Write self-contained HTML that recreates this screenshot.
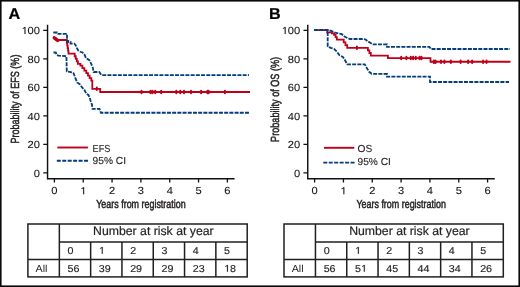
<!DOCTYPE html>
<html><head><meta charset="utf-8"><style>
html,body{margin:0;padding:0;background:#fff;}
svg{display:block;}
text{font-family:"Liberation Sans",sans-serif;fill:#231f20;text-rendering:geometricPrecision;}
.pl{font-size:15.8px;font-weight:bold;fill:#000;stroke:#000;stroke-width:0.2px;}
.tk{font-size:10.3px;stroke:#111;stroke-width:0.08px;fill:#111;}
path.td{fill:#231f20;stroke:#231f20;stroke-width:0.15px;}
.ax{font-size:11.8px;stroke:#231f20;stroke-width:0.5px;}
.lg{font-size:10.2px;stroke:#231f20;stroke-width:0.12px;}
.tb{font-size:12.25px;stroke:#231f20;stroke-width:0.2px;}
.td{font-size:10px;stroke:#231f20;stroke-width:0.15px;}
.ta{font-size:10.2px;}
</style></head><body>
<svg style="will-change:transform" width="520" height="287" viewBox="0 0 520 287">
<rect x="0.8" y="0.8" width="518.4" height="285.4" fill="#fff" stroke="#0a0a0a" stroke-width="1.6"/>
<g transform="translate(8.40,18.70) scale(1.03,1)"><text class="pl">A</text></g>
<g transform="translate(269.00,18.70) scale(1.02,1)"><text class="pl">B</text></g>
<path d="M47.55,24.8V178.65H234.60" fill="none" stroke="#111" stroke-width="1.45"/>
<path d="M43.25,30.30H47.55 M43.25,58.82H47.55 M43.25,87.34H47.55 M43.25,115.86H47.55 M43.25,144.38H47.55 M43.25,172.90H47.55" stroke="#111" stroke-width="1.3"/>
<path d="M54.40,178.6V182.6 M83.23,178.6V182.6 M112.06,178.6V182.6 M140.89,178.6V182.6 M169.72,178.6V182.6 M198.55,178.6V182.6 M227.38,178.6V182.6" stroke="#111" stroke-width="1.3"/>
<g transform="translate(40.00,34.10) scale(1.08,1)"><text class="tk" text-anchor="end"> 00</text><path d="M-13.463,0.000 L-14.369,0.000 L-14.369,-6.010 L-15.978,-4.979 L-15.978,-5.834 L-14.268,-7.086 L-13.463,-7.086Z" class="tk"/></g>
<g transform="translate(40.00,62.62) scale(1.08,1)"><text class="tk" text-anchor="end">80</text></g>
<g transform="translate(40.00,91.14) scale(1.08,1)"><text class="tk" text-anchor="end">60</text></g>
<g transform="translate(40.00,119.66) scale(1.08,1)"><text class="tk" text-anchor="end">40</text></g>
<g transform="translate(40.00,148.18) scale(1.08,1)"><text class="tk" text-anchor="end">20</text></g>
<g transform="translate(40.00,176.70) scale(1.08,1)"><text class="tk" text-anchor="end">0</text></g>
<g transform="translate(54.40,194.30) scale(1.08,1)"><text class="tk" text-anchor="middle">0</text></g>
<g transform="translate(83.23,194.30) scale(1.08,1)"><text class="tk" text-anchor="middle"> </text><path d="M0.857,0.000 L-0.048,0.000 L-0.048,-6.010 L-1.657,-4.979 L-1.657,-5.834 L0.053,-7.086 L0.857,-7.086Z" class="tk"/></g>
<g transform="translate(112.06,194.30) scale(1.08,1)"><text class="tk" text-anchor="middle">2</text></g>
<g transform="translate(140.89,194.30) scale(1.08,1)"><text class="tk" text-anchor="middle">3</text></g>
<g transform="translate(169.72,194.30) scale(1.08,1)"><text class="tk" text-anchor="middle">4</text></g>
<g transform="translate(198.55,194.30) scale(1.08,1)"><text class="tk" text-anchor="middle">5</text></g>
<g transform="translate(227.38,194.30) scale(1.08,1)"><text class="tk" text-anchor="middle">6</text></g>
<text x="96.20" y="207.7" class="ax" textLength="89.5" lengthAdjust="spacingAndGlyphs">Years from registration</text>
<text transform="translate(18.70,143.6) rotate(-90)" x="0" y="0" class="ax" textLength="89.0" lengthAdjust="spacingAndGlyphs">Probability of EFS (%)</text>
<path d="M307.75,24.8V178.65H494.80" fill="none" stroke="#111" stroke-width="1.45"/>
<path d="M303.45,30.30H307.75 M303.45,58.82H307.75 M303.45,87.34H307.75 M303.45,115.86H307.75 M303.45,144.38H307.75 M303.45,172.90H307.75" stroke="#111" stroke-width="1.3"/>
<path d="M314.60,178.6V182.6 M343.43,178.6V182.6 M372.26,178.6V182.6 M401.09,178.6V182.6 M429.92,178.6V182.6 M458.75,178.6V182.6 M487.58,178.6V182.6" stroke="#111" stroke-width="1.3"/>
<g transform="translate(300.20,34.10) scale(1.08,1)"><text class="tk" text-anchor="end"> 00</text><path d="M-13.463,0.000 L-14.369,0.000 L-14.369,-6.010 L-15.978,-4.979 L-15.978,-5.834 L-14.268,-7.086 L-13.463,-7.086Z" class="tk"/></g>
<g transform="translate(300.20,62.62) scale(1.08,1)"><text class="tk" text-anchor="end">80</text></g>
<g transform="translate(300.20,91.14) scale(1.08,1)"><text class="tk" text-anchor="end">60</text></g>
<g transform="translate(300.20,119.66) scale(1.08,1)"><text class="tk" text-anchor="end">40</text></g>
<g transform="translate(300.20,148.18) scale(1.08,1)"><text class="tk" text-anchor="end">20</text></g>
<g transform="translate(300.20,176.70) scale(1.08,1)"><text class="tk" text-anchor="end">0</text></g>
<g transform="translate(314.60,194.30) scale(1.08,1)"><text class="tk" text-anchor="middle">0</text></g>
<g transform="translate(343.43,194.30) scale(1.08,1)"><text class="tk" text-anchor="middle"> </text><path d="M0.857,0.000 L-0.048,0.000 L-0.048,-6.010 L-1.657,-4.979 L-1.657,-5.834 L0.053,-7.086 L0.857,-7.086Z" class="tk"/></g>
<g transform="translate(372.26,194.30) scale(1.08,1)"><text class="tk" text-anchor="middle">2</text></g>
<g transform="translate(401.09,194.30) scale(1.08,1)"><text class="tk" text-anchor="middle">3</text></g>
<g transform="translate(429.92,194.30) scale(1.08,1)"><text class="tk" text-anchor="middle">4</text></g>
<g transform="translate(458.75,194.30) scale(1.08,1)"><text class="tk" text-anchor="middle">5</text></g>
<g transform="translate(487.58,194.30) scale(1.08,1)"><text class="tk" text-anchor="middle">6</text></g>
<text x="356.40" y="207.7" class="ax" textLength="89.5" lengthAdjust="spacingAndGlyphs">Years from registration</text>
<text transform="translate(278.90,141.9) rotate(-90)" x="0" y="0" class="ax" textLength="85.0" lengthAdjust="spacingAndGlyphs">Probability of OS (%)</text>
<path d="M54.3,37.8 L57.6,40.4" stroke="#c0001a" stroke-width="3.5" stroke-linecap="round" fill="none"/>
<polyline points="53.30,37.30 54.50,37.80 55.50,38.60 56.50,39.30 57.50,40.00 66.40,40.00 66.82,40.00 66.82,42.74 67.24,42.74 67.24,45.48 67.66,45.48 67.66,48.22 68.08,48.22 68.08,50.96 68.50,50.96 68.50,53.70 73.60,53.70 74.67,53.70 74.67,56.25 75.75,56.25 75.75,58.80 76.83,58.80 76.83,61.35 77.90,61.35 77.90,63.90 80.40,63.90 80.40,65.60 82.37,65.60 82.37,68.10 84.33,68.10 84.33,70.60 86.30,70.60 86.30,73.10 87.97,73.10 87.97,75.60 89.63,75.60 89.63,78.10 91.30,78.10 91.30,80.60 92.30,80.60 92.30,88.80 100.20,88.80 100.20,92.00 250.00,92.00" fill="none" stroke="#c0001a" stroke-width="1.8" stroke-linejoin="miter"/>
<path d="M96.80,87.55v2.5 M141.50,90.75v2.5 M150.50,90.75v2.5 M152.50,90.75v2.5 M155.20,90.75v2.5 M161.20,90.75v2.5 M176.30,90.75v2.5 M180.20,90.75v2.5 M184.00,90.75v2.5 M191.00,90.75v2.5 M201.10,90.75v2.5 M207.40,90.75v2.5 M208.60,90.75v2.5 M224.90,90.75v2.5" stroke="#c0001a" stroke-width="2.0" stroke-linecap="round" fill="none"/>
<polyline points="53.30,32.50 57.00,32.50 57.50,33.90 67.00,33.90 67.00,40.80 68.30,40.80 68.30,42.00 70.50,42.00 70.50,43.60 74.30,43.60 75.50,44.90 76.50,47.50 78.30,50.50 80.40,51.80 82.50,52.50 84.50,54.60 86.00,58.10 89.40,60.20 91.50,64.40 92.90,67.90 93.60,72.00 99.20,72.00 101.30,75.05 249.00,75.05" fill="none" stroke="#033d7a" stroke-width="1.8" stroke-dasharray="4 1.2"/>
<polyline points="53.50,52.50 55.80,52.50 56.80,55.00 58.50,55.60 66.40,56.20 66.80,71.40 73.00,72.50 73.40,73.00 75.50,78.30 77.20,82.50 80.00,84.50 82.10,87.40 84.50,90.00 86.30,93.70 88.40,95.00 89.80,97.90 90.50,100.60 92.00,104.80 92.50,108.90 99.50,108.90 100.90,112.75 249.00,112.75" fill="none" stroke="#033d7a" stroke-width="1.8" stroke-dasharray="4 1.2"/>
<polyline points="314.00,30.20 327.20,30.20 327.20,32.30 331.90,32.30 331.90,33.30 334.00,33.30 334.00,34.90 335.60,34.90 335.60,37.20 336.80,37.20 336.80,39.60 342.00,39.60 343.73,39.60 343.73,42.33 345.47,42.33 345.47,45.07 347.20,45.07 347.20,47.80 366.50,47.80 367.93,47.80 367.93,50.40 369.37,50.40 369.37,53.00 370.80,53.00 370.80,55.60 387.90,55.60 387.90,58.10 430.50,58.10 430.50,61.75 510.50,61.75" fill="none" stroke="#c0001a" stroke-width="1.8" stroke-linejoin="miter"/>
<path d="M356.90,46.55v2.5 M401.20,56.85v2.5 M406.40,56.85v2.5 M410.80,56.85v2.5 M413.10,56.85v2.5 M415.80,56.85v2.5 M419.50,56.85v2.5 M421.50,56.85v2.5 M433.80,60.50v2.5 M435.60,60.50v2.5 M441.00,60.50v2.5 M444.40,60.50v2.5 M450.80,60.50v2.5 M460.60,60.50v2.5 M468.10,60.50v2.5 M472.10,60.50v2.5 M483.10,60.50v2.5 M486.50,60.50v2.5" stroke="#c0001a" stroke-width="2.0" stroke-linecap="round" fill="none"/>
<polyline points="314.00,30.20 328.50,30.20 330.40,30.70 333.00,31.70 336.00,33.00 341.80,34.20 344.50,36.50 347.50,38.00 349.80,39.00 363.70,39.00 365.60,39.50 367.50,41.10 370.60,43.00 372.50,44.30 387.00,44.30 387.00,46.90 429.50,46.90 431.00,49.00 510.00,49.00" fill="none" stroke="#033d7a" stroke-width="1.8" stroke-dasharray="4 1.2"/>
<polyline points="314.00,30.20 327.70,30.20 327.70,46.40 330.70,47.80 334.20,49.00 336.80,51.60 339.40,55.10 342.90,56.90 344.60,59.50 347.20,64.30 364.70,64.30 366.50,67.50 369.10,71.80 371.70,73.80 387.00,74.00 387.00,76.60 430.00,76.60 430.00,82.00 509.00,82.00" fill="none" stroke="#033d7a" stroke-width="1.8" stroke-dasharray="4 1.2"/>
<path d="M57.40,147.50H87.90" stroke="#c0001a" stroke-width="1.9"/>
<path d="M56.80,160.80H88.50" stroke="#033d7a" stroke-width="1.9" stroke-dasharray="4 1.45"/>
<g transform="translate(92.60,151.50) scale(0.9,1)"><text class="lg">EFS</text></g>
<text x="92.60" y="163.60" class="lg">95% CI</text>
<path d="M323.90,147.80H354.30" stroke="#c0001a" stroke-width="1.9"/>
<path d="M323.30,162.60H354.90" stroke="#033d7a" stroke-width="1.9" stroke-dasharray="4 1.45"/>
<text x="357.50" y="151.60" class="lg">OS</text>
<text x="357.50" y="165.00" class="lg">95% CI</text>
<rect x="27.90" y="224.00" width="219.30" height="52.90" fill="none" stroke="#231f20" stroke-width="1.5"/>
<path d="M59.35,224.00V276.90 M59.35,241.90H247.20 M27.90,259.40H247.20 M90.65,241.90V276.90 M121.95,241.90V276.90 M153.25,241.90V276.90 M184.55,241.90V276.90 M215.85,241.90V276.90" stroke="#231f20" stroke-width="1.5" fill="none"/>
<text x="93.10" y="234.8" class="tb">Number at risk at year</text>
<g transform="translate(67.55,253.80) scale(1.07,1)"><text class="td">0</text></g>
<g transform="translate(67.55,271.80) scale(1.07,1)"><text class="td">56</text></g>
<g transform="translate(98.85,253.80) scale(1.07,1)"><text class="td"> </text><path d="M3.613,0.000 L2.734,0.000 L2.734,-5.835 L1.172,-4.834 L1.172,-5.664 L2.832,-6.880 L3.613,-6.880Z" class="td"/></g>
<g transform="translate(98.85,271.80) scale(1.07,1)"><text class="td">39</text></g>
<g transform="translate(130.15,253.80) scale(1.07,1)"><text class="td">2</text></g>
<g transform="translate(130.15,271.80) scale(1.07,1)"><text class="td">29</text></g>
<g transform="translate(161.45,253.80) scale(1.07,1)"><text class="td">3</text></g>
<g transform="translate(161.45,271.80) scale(1.07,1)"><text class="td">29</text></g>
<g transform="translate(192.75,253.80) scale(1.07,1)"><text class="td">4</text></g>
<g transform="translate(192.75,271.80) scale(1.07,1)"><text class="td">23</text></g>
<g transform="translate(224.05,253.80) scale(1.07,1)"><text class="td">5</text></g>
<g transform="translate(224.05,271.80) scale(1.07,1)"><text class="td"> 8</text><path d="M3.613,0.000 L2.734,0.000 L2.734,-5.835 L1.172,-4.834 L1.172,-5.664 L2.832,-6.880 L3.613,-6.880Z" class="td"/></g>
<g transform="translate(35.60,271.60) scale(1.05,1)"><text class="ta">All</text></g>
<rect x="284.00" y="224.00" width="219.30" height="52.90" fill="none" stroke="#231f20" stroke-width="1.5"/>
<path d="M315.45,224.00V276.90 M315.45,241.90H503.30 M284.00,259.40H503.30 M346.75,241.90V276.90 M378.05,241.90V276.90 M409.35,241.90V276.90 M440.65,241.90V276.90 M471.95,241.90V276.90" stroke="#231f20" stroke-width="1.5" fill="none"/>
<text x="349.20" y="234.8" class="tb">Number at risk at year</text>
<g transform="translate(323.65,253.80) scale(1.07,1)"><text class="td">0</text></g>
<g transform="translate(323.65,271.80) scale(1.07,1)"><text class="td">56</text></g>
<g transform="translate(354.95,253.80) scale(1.07,1)"><text class="td"> </text><path d="M3.613,0.000 L2.734,0.000 L2.734,-5.835 L1.172,-4.834 L1.172,-5.664 L2.832,-6.880 L3.613,-6.880Z" class="td"/></g>
<g transform="translate(354.95,271.80) scale(1.07,1)"><text class="td">5 </text><path d="M9.175,0.000 L8.296,0.000 L8.296,-5.835 L6.733,-4.834 L6.733,-5.664 L8.394,-6.880 L9.175,-6.880Z" class="td"/></g>
<g transform="translate(386.25,253.80) scale(1.07,1)"><text class="td">2</text></g>
<g transform="translate(386.25,271.80) scale(1.07,1)"><text class="td">45</text></g>
<g transform="translate(417.55,253.80) scale(1.07,1)"><text class="td">3</text></g>
<g transform="translate(417.55,271.80) scale(1.07,1)"><text class="td">44</text></g>
<g transform="translate(448.85,253.80) scale(1.07,1)"><text class="td">4</text></g>
<g transform="translate(448.85,271.80) scale(1.07,1)"><text class="td">34</text></g>
<g transform="translate(480.15,253.80) scale(1.07,1)"><text class="td">5</text></g>
<g transform="translate(480.15,271.80) scale(1.07,1)"><text class="td">26</text></g>
<g transform="translate(291.70,271.60) scale(1.05,1)"><text class="ta">All</text></g>
</svg>
</body></html>
